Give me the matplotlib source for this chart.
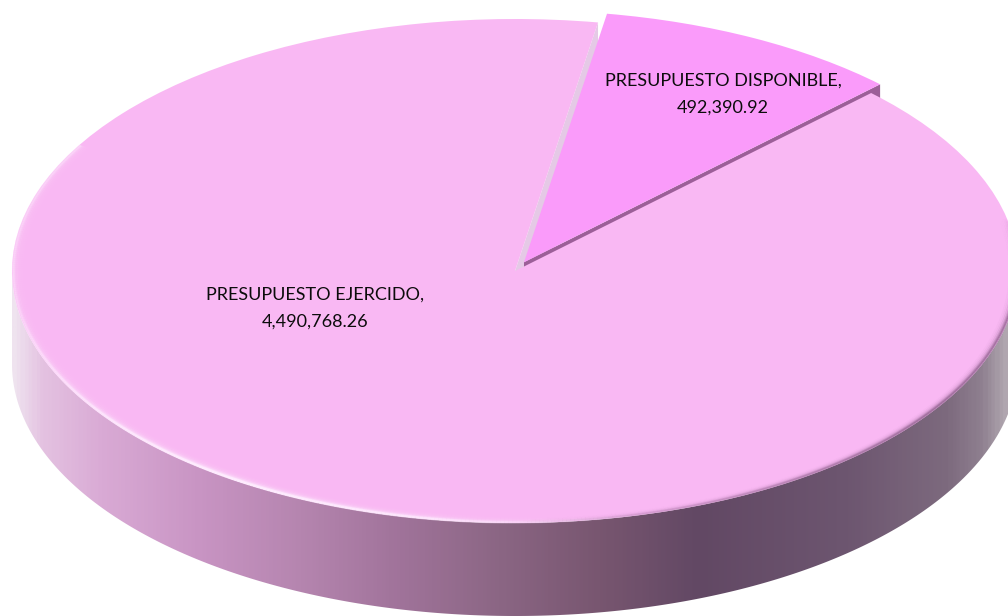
import numpy as np
import matplotlib
matplotlib.use("Agg")
import matplotlib.pyplot as plt
from matplotlib.collections import LineCollection
from matplotlib.colors import LinearSegmentedColormap, to_rgb
from matplotlib.patches import Polygon

# === DATA ===
labels = ["PRESUPUESTO EJERCIDO", "PRESUPUESTO DISPONIBLE"]
values = [4490768.26, 492390.92]
value_text = ["4,490,768.26", "492,390.92"]

# === GEOMETRY (pixels) ===
W, H = 1008, 616
CX, CY = 515, 271
RX, RY = 503, 252
DEPTH = 93 / RY
START = 80.5
EXPLODE = [0, 0.039]

# === COLORS ===
COLOR_MAIN = "#f9b8f3"
COLOR_SLICE = "#fa9bfa"
COLOR_CUT = "#e5c9e6"
COLOR_SLICE_SIDE = "#9c5f98"
side_x = [12, 40, 100, 200, 300, 400, 500, 600, 700, 850, 950, 985, 1008]
side_colors = ["#efe3ef", "#e4c2e1", "#d9aad5", "#c894c3", "#b585af", "#a0739a", "#8b6684",
               "#785670", "#624864", "#6d5670", "#7d6a7e", "#8f8090", "#b0a6af"]


def xd(px):
    return (px - CX) / RX


def yd(py):
    return (CY - py) / RY


fig = plt.figure(figsize=(W / 100, H / 100), dpi=100, facecolor="white")
ax = fig.add_axes([0, 0, 1, 1])
wedges, _ = ax.pie(values, startangle=START, explode=EXPLODE, colors=[COLOR_MAIN, COLOR_SLICE],
                   wedgeprops=dict(linewidth=0, antialiased=True))
ax.set_aspect("auto")
ax.axis("off")

main, small = wedges
main.set_zorder(4)
small.set_zorder(3)

# === SIDE WALL ===
t = np.radians(np.linspace(180, 360, 400))
rim_x, rim_y = np.cos(t), np.sin(t)
band = np.vstack([np.column_stack([rim_x, rim_y]),
                  np.column_stack([rim_x[::-1], rim_y[::-1] - DEPTH])])
clip = Polygon(band, closed=True, transform=ax.transData, fc="none", ec="none")
ax.add_patch(clip)
cmap = LinearSegmentedColormap.from_list(
    "side", [((x - side_x[0]) / (side_x[-1] - side_x[0]), c) for x, c in zip(side_x, side_colors)])
im = ax.imshow(np.linspace(0, 1, 600).reshape(1, -1), cmap=cmap, aspect="auto",
               extent=(xd(side_x[0]), xd(side_x[-1]), yd(H), yd(0)), zorder=2)
im.set_clip_path(clip)
ax.set_xlim(xd(0), xd(W))
ax.set_ylim(yd(H), yd(0))

# === CUT FACE OF THE MAIN SLICE ===
a = np.radians(main.theta1)
ax.add_patch(Polygon([(np.cos(a), np.sin(a)), (0, 0), (0, -DEPTH), (np.cos(a), np.sin(a) - DEPTH)],
                     closed=True, fc=COLOR_CUT, ec="none", zorder=1))

# === SIDE OF THE PULLED-OUT SLICE ===
sx, sy = small.center
a1 = np.radians(small.theta1)
ax.add_patch(Polygon([[sx, sy], [sx + np.cos(a1), sy + np.sin(a1)],
                      [sx + np.cos(a1), sy + np.sin(a1) - DEPTH], [sx, sy - DEPTH]],
                     closed=True, fc=COLOR_SLICE_SIDE, ec="none", zorder=2))


# === BEVEL ON THE RIM ===
def bevel_alpha(theta, kind):
    if kind == "light":
        return np.clip(1 - np.abs(theta - 235) / 70, 0.35, 1) * np.clip((285 - theta) / 25, 0, 1)
    return np.clip((theta - 270) / 55, 0, 1) * np.clip((372 - theta) / 20, 0, 1)


theta_deg = np.linspace(150, 372, 500)
theta = np.radians(theta_deg)
for scale, alpha_l, alpha_d in [(0.998, 0.95, 0.55), (0.996, 0.7, 0.38), (0.994, 0.45, 0.25),
                                (0.991, 0.3, 0.14), (0.988, 0.2, 0.07), (0.984, 0.12, 0.03),
                                (0.98, 0.07, 0.0), (0.976, 0.04, 0.0)]:
    pts = np.column_stack([scale * np.cos(theta), scale * np.sin(theta)])
    segs = np.stack([pts[:-1], pts[1:]], axis=1)
    mid = theta_deg[:-1]
    light = np.tile((*to_rgb("#ffeeff"), 0.0), (len(mid), 1))
    light[:, 3] = bevel_alpha(mid, "light") * alpha_l
    dark = np.tile((*to_rgb("#8a5c88"), 0.0), (len(mid), 1))
    dark[:, 3] = bevel_alpha(mid, "dark") * alpha_d
    ax.add_collection(LineCollection(segs, colors=light, linewidths=1.6, zorder=5), autolim=False)
    ax.add_collection(LineCollection(segs, colors=dark, linewidths=1.6, zorder=5), autolim=False)

# === LABELS ===
font = dict(family="Lato", fontsize=12.95, color="#0c0c0c", ha="center", va="center",
            linespacing=1.9, zorder=6)
ax.text(xd(315), yd(308), f"{labels[0]},\n{value_text[0]}", **font)
ax.text(xd(723), yd(94), f"{labels[1]},\n{value_text[1]}", **font)

plt.savefig("out.png", dpi=100, facecolor="white")
